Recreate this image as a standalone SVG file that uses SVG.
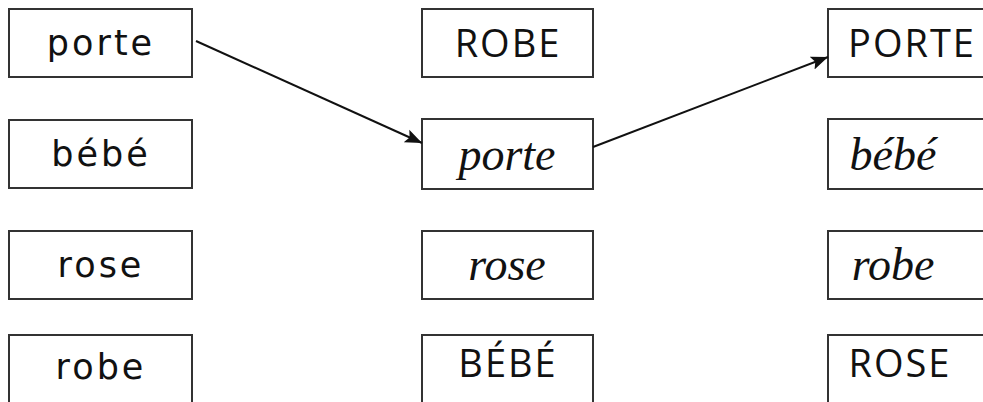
<svg xmlns="http://www.w3.org/2000/svg" width="983" height="402" viewBox="0 0 983 402">
<style>
.box{fill:#fff;stroke:#333;stroke-width:2}
.p{font-family:"DejaVu Sans",sans-serif;font-size:35px;letter-spacing:3px;fill:#111;text-anchor:middle}
.u{font-family:"Open Sans","DejaVu Sans",sans-serif;font-size:38px;letter-spacing:2px;fill:#111;text-anchor:middle}
.c{font-family:"Liberation Serif",serif;font-style:italic;font-size:46px;fill:#111;text-anchor:middle}
.ln{stroke:#111;stroke-width:2;fill:none}
</style>
<defs>
<marker id="ah2" viewBox="0 0 10 10" refX="10" refY="5" markerWidth="17" markerHeight="17" markerUnits="userSpaceOnUse" orient="auto"><path d="M0,1 L10,5 L0,9 L2,5 Z" fill="#111"/></marker>
</defs>
<g id="L1"><rect class="box" x="9" y="9" width="183" height="68"/><text class="p" x="101" y="55">porte</text></g>
<g id="L2"><rect class="box" x="9" y="120" width="183" height="68"/><text class="p" x="101" y="166">bébé</text></g>
<g id="L3"><rect class="box" x="9" y="231" width="183" height="68"/><text class="p" x="101" y="277">rose</text></g>
<g id="L4"><rect class="box" x="9" y="335" width="183" height="80"/><text class="p" x="101" y="379">robe</text></g>
<g id="M1"><rect class="box" x="422" y="9" width="171" height="68"/><text class="u" x="508" y="57">ROBE</text></g>
<g id="M2"><rect class="box" x="422" y="119" width="171" height="70"/><text class="c" x="507" y="170">porte</text></g>
<g id="M3"><rect class="box" x="422" y="231" width="171" height="68"/><text class="c" x="507" y="280">rose</text></g>
<g id="M4"><rect class="box" x="422" y="335" width="171" height="80"/><text class="u" x="508" y="377">BÉBÉ</text></g>
<g id="R1"><rect class="box" x="828" y="9" width="170" height="68"/><text class="u" x="912" y="57">PORTE</text></g>
<g id="R2"><rect class="box" x="828" y="119" width="170" height="70"/><text class="c" x="893" y="170">bébé</text></g>
<g id="R3"><rect class="box" x="828" y="231" width="170" height="68"/><text class="c" x="893" y="280">robe</text></g>
<g id="R4"><rect class="box" x="828" y="335" width="170" height="80"/><text class="u" x="900" y="377">ROSE</text></g>
<g id="connectors">
<line class="ln" x1="196" y1="41" x2="422" y2="143" marker-end="url(#ah2)"/>
<line class="ln" x1="593" y1="147" x2="828" y2="57" marker-end="url(#ah2)"/>
</g>
</svg>
